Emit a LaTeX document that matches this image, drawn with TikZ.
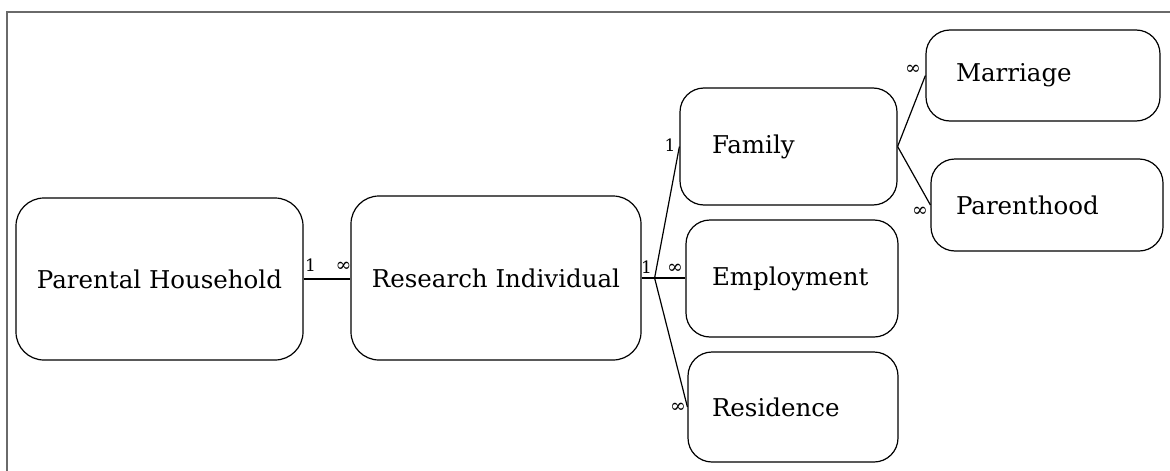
\documentclass[tikz,border=0pt]{standalone}
\usepackage{fontspec}
\setmainfont{DejaVu Serif}
\usepackage{tikz}
\usetikzlibrary{positioning}
\definecolor{frameGray}{HTML}{6A6A6A}
\tikzset{
  entity/.style={draw=black, line width=1.2pt, rounded corners=24pt,
    font=\fontsize{24.5}{28}\selectfont, inner sep=0pt},
  big entity/.style={entity, align=center, rounded corners=28pt},
  small entity/.style={entity, align=left},
  link/.style={draw=black, line width=1.2pt},
  card/.style={font=\fontsize{17}{19}\selectfont, inner sep=0pt, anchor=base},
  many/.style={card, font=\fontsize{19}{21}\selectfont}
}

\begin{document}
\begin{tikzpicture}[x=1pt,y=-1pt]
  \useasboundingbox (0,0) rectangle (1170,471);
  % page frame, only top and left edges show
  \draw[frameGray, line width=1.6pt] (7,471) -- (7,12) -- (1170,12);

  \node[big entity, minimum width=287pt, minimum height=162pt] (ph)
    at (159.5,279) {Parental Household};
  \node[big entity, minimum width=290pt, minimum height=164pt] (ri)
    at (496,278) {Research Individual};
  \node[small entity, inner xsep=32pt, text width=153pt, minimum height=117pt]
    (family) at (788.5,146.5) {Family};
  \node[small entity, inner xsep=26pt, text width=160pt, minimum height=117pt]
    (employment) at (792,278.5) {Employment};
  \node[small entity, inner xsep=24pt, text width=162pt, minimum height=110pt]
    (residence) at (793,407) {Residence};
  \node[small entity, inner xsep=30pt, text width=174pt, minimum height=91pt]
    (marriage) at (1043,75.5) {Marriage};
  \node[small entity, inner xsep=25pt, text width=182pt, minimum height=92pt]
    (parenthood) at (1047,205) {Parenthood};

  \coordinate[right=13pt of ri.east] (split);
  \coordinate (famout) at (family.east);

  \draw[link] (ph.east) -- (ri.west |- ph.east);
  \draw[link] (ri.east) -- (employment.west |- ri.east);
  \draw[link] (split) -- (family.west);
  \draw[link] (split) -- (residence.west);
  \draw[link] (famout) -- (marriage.west);
  \draw[link] (famout) -- (parenthood.west);

  % cardinalities
  \node[card] (ph1) at (310.5,271) {1};
  \node[many] (ri-many) at (343.5,271) {∞};
  \node[card] (ri1) at (646.5,273) {1};
  \node[many] (emp-many) at (675,273) {∞};
  \node[card] (fam1) at (670,151) {1};
  \node[many] (res-many) at (678,412) {∞};
  \node[many] (mar-many) at (913,74) {∞};
  \node[many] (par-many) at (920,216) {∞};
\end{tikzpicture}
\end{document}
